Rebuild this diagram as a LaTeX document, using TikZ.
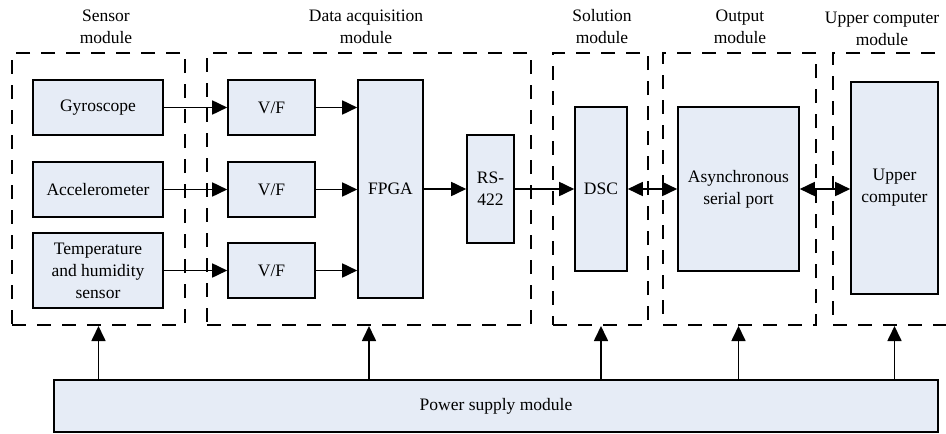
\documentclass[tikz,border=0pt]{standalone}
\usepackage{fontspec}
\setmainfont{Liberation Serif}
\usetikzlibrary{arrows.meta}
\definecolor{boxfill}{HTML}{E6ECF6}
\begin{document}
\begin{tikzpicture}[x=1pt,y=-1pt,
  every node/.style={font=\fontsize{17.5}{22}\selectfont},
  bx/.style={draw, fill=boxfill, line width=1.6pt, inner sep=0pt, align=center},
  grp/.style={draw, line width=2pt, dash pattern=on 14pt off 11pt, inner sep=0pt},
  ttl/.style={align=center, inner sep=0pt},
  tip/.tip={Triangle[length=15pt,width=14pt]},
  arr/.style={line width=1.7pt, -tip},
  darr/.style={line width=1.7pt, tip-tip}]
\useasboundingbox (0,0) rectangle (946,434);
% group boxes
\node[grp, minimum width=173pt, minimum height=272pt] (sbox) at (98.5,189) {};
\node[grp, minimum width=324pt, minimum height=272pt] (dbox) at (369,189) {};
\node[grp, minimum width=95pt, minimum height=272pt] (solbox) at (600.5,189) {};
\node[grp, minimum width=153pt, minimum height=272pt] (obox) at (739.5,189) {};
\node[grp, minimum width=140pt, minimum height=272pt] (ubox) at (903,189) {};
% titles
\node[ttl] (st) at (106,26.5) {Sensor\\module};
\node[ttl] (dt) at (366,26.5) {Data acquisition\\module};
\node[ttl] (solt) at (602,26.5) {Solution\\module};
\node[ttl] (ot) at (740,26.5) {Output\\module};
\node[ttl] (ut) at (882,29) {Upper computer\\module};
% blocks
\node[bx, minimum width=130pt, minimum height=55pt] (gyro) at (98,107.5) {Gyroscope};
\node[bx, minimum width=130pt, minimum height=55pt] (acc) at (98,189.5) {Accelerometer};
\node[bx, minimum width=130pt, minimum height=75pt] (temp) at (98,270.5) {Temperature\\and humidity\\sensor};
\node[bx, minimum width=87pt, minimum height=55pt] (vf1) at (271.5,107.5) {V/F};
\node[bx, minimum width=87pt, minimum height=55pt] (vf2) at (271.5,189.5) {V/F};
\node[bx, minimum width=87pt, minimum height=55pt] (vf3) at (271.5,270.5) {V/F};
\node[bx, minimum width=65pt, minimum height=218pt] (fpga) at (390.5,189) {FPGA};
\node[bx, minimum width=47pt, minimum height=108pt] (rs) at (490.5,189) {RS-\\422};
\node[bx, minimum width=52pt, minimum height=164pt] (dsc) at (601,189) {DSC};
\node[bx, minimum width=121pt, minimum height=164pt] (async) at (738.5,189) {Asynchronous\\serial port};
\node[bx, minimum width=87pt, minimum height=212pt] (upper) at (894.5,188) {Upper\\computer};
\node[bx, minimum width=884pt, minimum height=52pt] (power) at (496,406) {Power supply module};
% connectors
\draw[arr] (gyro.east) -- (vf1.west);
\draw[arr] (acc.east) -- (vf2.west);
\draw[arr] (temp.east) -- (vf3.west);
\draw[arr] (vf1.east) -- (vf1.east -| fpga.west);
\draw[arr] (vf2.east) -- (vf2.east -| fpga.west);
\draw[arr] (vf3.east) -- (vf3.east -| fpga.west);
\draw[arr] (fpga.east) -- (rs.west);
\draw[arr] (rs.east) -- (dsc.west);
\draw[darr] (dsc.east) -- (async.west);
\draw[darr] (async.east) -- (async.east -| upper.west);
% power arrows
\draw[arr] (power.north -| sbox.south) -- (sbox.south);
\draw[arr] (power.north -| dbox.south) -- (dbox.south);
\draw[arr] (power.north -| dsc.south) -- (dsc.south |- solbox.south);
\draw[arr] (power.north -| async.south) -- (async.south |- obox.south);
\draw[arr] (power.north -| upper.south) -- (upper.south |- ubox.south);
\end{tikzpicture}
\end{document}
